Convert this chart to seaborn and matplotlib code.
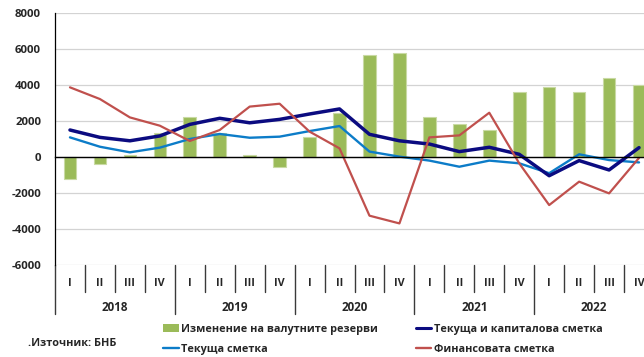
import numpy as np
import pandas as pd
import matplotlib
matplotlib.use("Agg")
import matplotlib.pyplot as plt
import matplotlib.transforms as mtransforms
from matplotlib.lines import Line2D
from matplotlib.patches import Patch
import seaborn as sns

# Quarterly balance-of-payments flows, million BGN
years = ["2018", "2019", "2020", "2021", "2022"]
quarters = ["I", "II", "III", "IV"]

reserves = [-1200, -400, 100, 1350, 2250, 1350, 100, -550, 1100, 2450,
            5650, 5800, 2250, 1850, 1500, 3600, 3870, 3600, 4370, 3980]
cur_cap = [1500, 1090, 900, 1170, 1810, 2150, 1900, 2090, 2390, 2670,
           1260, 900, 720, 300, 540, 150, -1040, -200, -720, 520]
current = [1090, 570, 260, 520, 1000, 1280, 1070, 1130, 1440, 1720,
           300, 20, -200, -540, -200, -350, -900, 150, -170, -300]
financial = [3870, 3220, 2200, 1740, 890, 1500, 2800, 2960, 1410, 480,
             -3260, -3690, 1090, 1200, 2460, -350, -2670, -1370, -2020, -50]

labels = {
    "reserves": "Изменение на валутните резерви",
    "cur_cap": "Текуща и капиталова сметка",
    "current": "Текуща сметка",
    "financial": "Финансовата сметка",
}
source = ".Източник: БНБ"

C_GREEN = "#9BBB59"
C_NAVY = "#0B0B80"
C_BLUE = "#0C7CC8"
C_RED = "#C0504D"

sns.set_style("white")
plt.rcParams["font.family"] = ["Open Sans", "DejaVu Sans"]
plt.rcParams["font.weight"] = "bold"

FS = 7.8

n = len(reserves)
df = pd.DataFrame({
    "pos": np.arange(n),
    "reserves": reserves,
    "cur_cap": cur_cap,
    "current": current,
    "financial": financial,
})

W, H = 644, 357
fig = plt.figure(figsize=(W / 100, H / 100), dpi=100)
ax = fig.add_axes([55 / W, (H - 265) / H, 599 / W, 252 / H])

sns.barplot(data=df, x="pos", y="reserves", color=C_GREEN, width=0.42,
            edgecolor="#C9DAA4", linewidth=0.8, saturation=1, ax=ax, zorder=2)
sns.lineplot(data=df, x="pos", y="cur_cap", color=C_NAVY, linewidth=2.5, ax=ax, zorder=4)
sns.lineplot(data=df, x="pos", y="current", color=C_BLUE, linewidth=1.7, ax=ax, zorder=3)
sns.lineplot(data=df, x="pos", y="financial", color=C_RED, linewidth=1.6, ax=ax, zorder=5)

ax.set_xlim(-0.5, n - 0.5)
ax.set_ylim(-6000, 8000)
ax.set_yticks(np.arange(-6000, 8001, 2000))
ax.set_yticklabels([str(v) for v in range(-6000, 8001, 2000)], fontsize=FS + 0.4, fontweight="bold")
ax.yaxis.grid(True, color="#D3D3D3", linewidth=0.9, zorder=0)
ax.set_axisbelow(True)
ax.set_xlabel("")
ax.set_ylabel("")
for s in ("top", "right"):
    ax.spines[s].set_visible(False)
ax.spines["left"].set_color("black")
ax.spines["left"].set_linewidth(0.9)
ax.spines["bottom"].set_position(("data", 0))
ax.spines["bottom"].set_color("black")
ax.spines["bottom"].set_linewidth(1.0)
ax.spines["bottom"].set_zorder(6)
ax.set_xticks(np.arange(-0.5, n, 1.0))
ax.set_xticklabels([])
ax.tick_params(axis="x", length=4, width=0.9, color="black", direction="out")
ax.tick_params(axis="y", length=4, width=0.9, color="black", direction="out", pad=6)

# Two-level category axis below the plot
tr = mtransforms.blended_transform_factory(ax.transData, ax.transAxes)
for i in range(n):
    ax.text(i, -0.072, quarters[i % 4], transform=tr, ha="center", va="center",
            fontsize=FS, fontweight="bold")
for k in range(n + 1):
    bottom = -0.195 if k % 4 == 0 else -0.108
    ax.plot([k - 0.5, k - 0.5], [0, bottom], transform=tr, color="#3A3A3A",
            linewidth=1.0, clip_on=False)
for j, y in enumerate(years):
    ax.text(4 * j + 1.5, -0.167, y, transform=tr, ha="center", va="center",
            fontsize=FS + 0.6, fontweight="bold")

handles = [
    Patch(facecolor=C_GREEN, edgecolor="none", label=labels["reserves"]),
    Line2D([], [], color=C_BLUE, linewidth=1.7, label=labels["current"]),
    Line2D([], [], color=C_NAVY, linewidth=2.2, label=labels["cur_cap"]),
    Line2D([], [], color=C_RED, linewidth=1.7, label=labels["financial"]),
]
fig.legend(handles=handles, ncol=2, loc="upper left",
           bbox_to_anchor=(163 / W, (H - 324) / H), frameon=False,
           borderpad=0, borderaxespad=0, handlelength=1.45,
           handleheight=0.75, handletextpad=0.2, columnspacing=3.5,
           labelspacing=0.85, prop={"weight": "bold", "size": FS})

fig.text(28 / W, (H - 343) / H, source, ha="left", va="center",
         fontsize=FS, fontweight="bold")

fig.savefig("out.png", dpi=100)
